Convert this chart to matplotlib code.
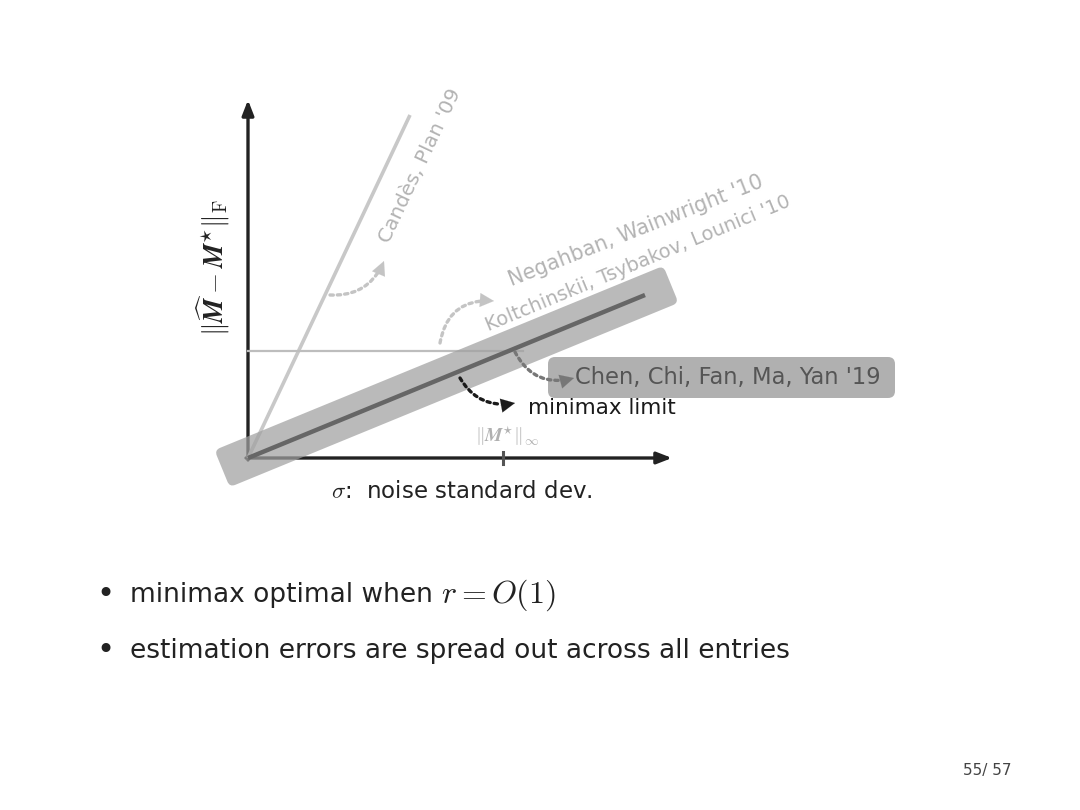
import matplotlib.pyplot as plt
from matplotlib.patches import FancyArrowPatch, FancyBboxPatch
from matplotlib.transforms import Affine2D
import numpy as np

plt.rcParams["font.family"] = ["DejaVu Sans"]
plt.rcParams["mathtext.fontset"] = "cm"

# diagram data (units: sigma / error, origin at the axes corner)
sigma_axis_end = 4.24
err_axis_end = 3.58
candes_sigma = [0.0, 1.62]
candes_err = [0.0, 3.43]
ours_sigma = [0.0, 3.97]
ours_err = [0.0, 1.63]
linf_sigma = [0.0, 2.75]
linf_err = [1.07, 1.07]
linf_tick = 2.55

bullet_text = ["minimax optimal when ", "estimation errors are spread out across all entries"]
bullet_math = [r"$r = O(1)$", ""]
page = "55/ 57"

fig = plt.figure(figsize=(10.8, 8.1), dpi=100)
ax = fig.add_axes([0, 0, 1, 1])
ax.set_xlim(-2.48, 8.32)
ax.set_ylim(-3.52, 4.58)
ax.axis("off")

# gray band around our error line
ang = np.degrees(np.arctan2(ours_err[1], ours_sigma[1]))
length = np.hypot(ours_sigma[1], ours_err[1])
band = FancyBboxPatch((-0.28, -0.2), length + 0.56, 0.40,
                      boxstyle="round,pad=0,rounding_size=0.06",
                      fc="#a0a0a0", ec="none", alpha=0.72, zorder=3)
band.set_transform(Affine2D().rotate_deg(ang) + ax.transData)
ax.add_patch(band)

# axes arrows
ax.annotate("", xy=(0, err_axis_end), xytext=(0, -0.02),
            arrowprops=dict(arrowstyle="-|>,head_length=0.9,head_width=0.35",
                            lw=2.4, color="#222222", shrinkA=0, shrinkB=0), zorder=2)
ax.annotate("", xy=(sigma_axis_end, 0), xytext=(-0.02, 0),
            arrowprops=dict(arrowstyle="-|>,head_length=0.9,head_width=0.35",
                            lw=2.4, color="#222222", shrinkA=0, shrinkB=0), zorder=2)

# lines
ax.plot(candes_sigma, candes_err, color="#c8c8c8", lw=2.6, solid_capstyle="butt", zorder=2)
ax.plot(linf_sigma, linf_err, color="#bdbdbd", lw=1.6, zorder=2)
ax.plot(ours_sigma, ours_err, color="#666666", lw=3.2, solid_capstyle="butt", zorder=4)
ax.plot([linf_tick, linf_tick], [-0.06, 0.06], color="#555555", lw=2.2, zorder=4)

# labels on lines
ax.text(1.72, 2.92, "Candès, Plan '09", rotation=64.7, rotation_mode="anchor",
        ha="center", va="center", fontsize=14.5, color="#b3b3b3")
ax.text(3.88, 2.27, "Negahban, Wainwright '10", rotation=21.5, rotation_mode="anchor",
        ha="center", va="center", fontsize=14.8, color="#b3b3b3")
ax.text(3.90, 1.95, "Koltchinskii, Tsybakov, Lounici '10", rotation=22.5,
        rotation_mode="anchor", ha="center", va="center", fontsize=14, color="#b3b3b3")


# dotted curved arrows with a solid head
def curved(p0, p1, rad, color):
    p0, p1 = np.array(p0), np.array(p1)
    d = p1 - p0
    ctrl = (p0 + p1) / 2 + rad * np.array([d[1], -d[0]])
    tang = p1 - ctrl
    tang = tang / np.hypot(*tang)
    base = p1 - 0.15 * tang
    ax.add_patch(FancyArrowPatch(tuple(p0), tuple(p1), connectionstyle=f"arc3,rad={rad}",
                                 arrowstyle="-", linestyle=(0, (1, 1.2)), lw=2.4,
                                 color=color, shrinkA=0, shrinkB=10, zorder=5))
    ax.annotate("", xy=tuple(p1), xytext=tuple(base),
                arrowprops=dict(arrowstyle="-|>,head_length=1.0,head_width=0.5",
                                lw=0.1, color=color, shrinkA=0, shrinkB=0), zorder=6)


curved((0.82, 1.63), (1.36, 1.97), 0.35, "#c4c4c4")
curved((1.92, 1.15), (2.46, 1.57), -0.45, "#c4c4c4")
curved((2.67, 1.06), (3.26, 0.80), 0.4, "#777777")
curved((2.12, 0.80), (2.67, 0.55), 0.35, "#1a1a1a")

# Chen et al. box
box = FancyBboxPatch((3.00, 0.60), 3.47, 0.41,
                     boxstyle="round,pad=0,rounding_size=0.07",
                     fc="#a8a8a8", ec="none", alpha=0.9, zorder=3)
ax.add_patch(box)
ax.text(3.27, 0.80, "Chen, Chi, Fan, Ma, Yan '19", ha="left", va="center",
        fontsize=16.3, color="#555555", zorder=6)
ax.text(2.80, 0.50, "minimax limit", ha="left", va="center", fontsize=15.5,
        color="#1a1a1a", zorder=6)
ax.text(linf_tick + 0.04, 0.22, r"$\Vert \mathbfit{M}^{\star}\Vert_{\infty}$",
        ha="center", va="center", fontsize=14, color="#b0b0b0")

# axis labels
ax.text(-0.35, 1.90, r"$\Vert \widehat{\mathbfit{M}} - \mathbfit{M}^{\star}\Vert_{\mathrm{F}}$",
        rotation=90, ha="center", va="center", fontsize=19.5, color="#222222")
ax.text(2.14, -0.34, r"$\sigma$:  noise standard dev.", ha="center", va="center",
        fontsize=16.5, color="#222222")

# bullets
for i, (txt, math) in enumerate(zip(bullet_text, bullet_math)):
    y = -1.37 - 0.56 * i
    ax.text(-1.52, y, "\u2022", ha="left", va="center", fontsize=22, color="#222222")
    t = ax.text(-1.18, y, txt, ha="left", va="center", fontsize=19, color="#222222")
    if math:
        ax.annotate(math, xy=(1, 0.5), xycoords=t, ha="left", va="center",
                    fontsize=23, color="#222222")

ax.text(7.39, -3.13, page, ha="center", va="center", fontsize=11, color="#444444")

fig.savefig("out.png", dpi=100)
